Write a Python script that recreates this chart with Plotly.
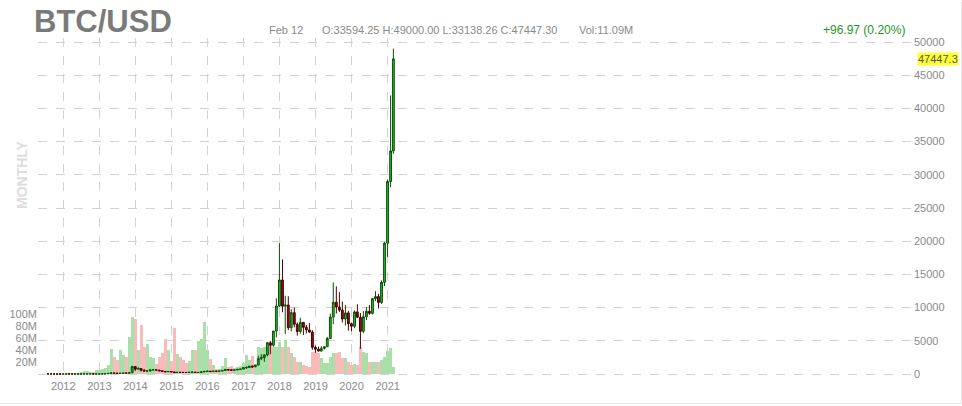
import pandas as pd
import plotly.graph_objects as go

# ---------------- data (monthly BTC/USD, Jul 2011 .. Feb 2021) ----------------
month_start = "2011-07-31"
n_months = 116

opens = [
    15.4, 13.4, 8.2, 5.1, 3.2, 3.0,                                   # 2011 Jul-Dec
    4.7, 5.5, 4.9, 4.9, 5.0, 5.2, 6.7, 9.3, 10.2, 12.4, 11.2, 12.6,   # 2012
    13.5, 20.4, 33.4, 93, 139, 129, 97, 106, 135, 133, 198, 1120,     # 2013
    732, 815, 573, 445, 447, 630, 640, 585, 478, 387, 338, 376,       # 2014
    320, 217, 254, 244, 236, 230, 263, 284, 230, 236, 314, 377,       # 2015
    430, 368, 437, 416, 448, 531, 673, 624, 573, 608, 700, 742,       # 2016
    963, 970, 1190, 1080, 1348, 2300, 2480, 2875, 4703, 4339, 6468, 10233,      # 2017
    14156, 10221, 10397, 6973, 9240, 7494, 6404, 7780, 7037, 6635, 6317, 4017,  # 2018
    3742, 3457, 3854, 4105, 5350, 8574, 10817, 10085, 9630, 8293, 9199, 7569,   # 2019
    7193, 9350, 8544, 6424, 8624, 9454, 9136, 11351, 11655, 10779, 13805, 19700,  # 2020
    28990, 33594.25,                                                  # 2021
]
highs = [
    15.5, 13.5, 8.5, 5.3, 3.5, 4.8,
    7.4, 6.4, 5.4, 5.3, 5.2, 6.8, 9.5, 15.4, 12.6, 12.8, 12.8, 13.7,
    20.9, 33.8, 94, 266, 140, 130, 111, 135, 146, 215, 1242, 1163,
    1020, 840, 710, 545, 630, 680, 650, 600, 500, 414, 460, 385,
    320, 265, 300, 257, 247, 268, 317, 287, 243, 333, 502, 465,
    460, 445, 440, 466, 550, 780, 704, 624, 612, 720, 755, 975,
    1153, 1200, 1290, 1350, 2760, 3000, 2940, 4740, 4980, 6470, 11400, 19700,
    17250, 11780, 11700, 9760, 10020, 7760, 8480, 7760, 7400, 7680, 6600, 4300,
    4120, 4200, 4140, 5600, 9100, 13800, 13200, 12330, 10920, 10400, 9500, 7750,
    9580, 10500, 9190, 9480, 10080, 10390, 11450, 12470, 12070, 14100, 19900, 29300,
    41950, 49000.00,
]
lows = [
    12.9, 7.0, 4.8, 2.2, 2.0, 2.8,
    4.6, 4.3, 4.6, 4.7, 4.9, 5.2, 6.5, 7.1, 9.8, 9.9, 10.6, 12.4,
    13.2, 19.6, 33.2, 50, 104, 88, 65, 100, 123, 104, 196, 455,
    731, 380, 440, 340, 420, 540, 560, 450, 360, 275, 320, 300,
    152, 212, 236, 214, 225, 219, 253, 162, 226, 235, 300, 352,
    360, 365, 394, 413, 438, 525, 475, 532, 568, 604, 682, 742,
    750, 935, 890, 1065, 1340, 2100, 1830, 2670, 2980, 4110, 5500, 10100,
    9300, 6000, 6600, 6430, 7030, 5780, 6070, 5880, 6100, 6200, 3650, 3200,
    3400, 3380, 3700, 4070, 5330, 7500, 9100, 9350, 7750, 7300, 6530, 6440,
    6900, 8480, 3800, 6150, 8120, 8900, 8970, 10980, 9880, 10550, 13240, 17600,
    28130, 33138.26,
]
closes = [
    13.4, 8.2, 5.1, 3.2, 3.0, 4.7,
    5.5, 4.9, 4.9, 5.0, 5.2, 6.7, 9.3, 10.2, 12.4, 11.2, 12.6, 13.5,
    20.4, 33.4, 93, 139, 129, 97, 106, 135, 133, 198, 1120, 732,
    815, 573, 445, 447, 630, 640, 585, 478, 387, 338, 376, 320,
    217, 254, 244, 236, 230, 263, 284, 230, 236, 314, 377, 430,
    368, 437, 416, 448, 531, 673, 624, 573, 608, 700, 742, 963,
    970, 1190, 1080, 1348, 2300, 2480, 2875, 4703, 4339, 6468, 10233, 14156,
    10221, 10397, 6973, 9240, 7494, 6404, 7780, 7037, 6635, 6317, 4017, 3742,
    3457, 3854, 4105, 5350, 8574, 10817, 10085, 9630, 8293, 9199, 7569, 7193,
    9350, 8544, 6424, 8624, 9454, 9136, 11351, 11655, 10779, 13805, 19700, 28990,
    33594.25, 47447.30,
]
volumes_m = [
    0.3, 0.3, 0.3, 0.3, 0.3, 0.3,
    1, 1, 1, 1, 1.5, 3, 5, 5, 4, 4, 6, 6,
    8, 10, 15, 42, 28, 23, 40, 32, 28, 62, 95, 92,
    40, 82, 45, 50, 28, 26, 17, 28, 35, 58, 40, 22,
    77, 33, 28, 23, 18, 21, 40, 40, 55, 58, 87, 40,
    25, 15, 9, 9, 14, 26, 12, 13, 10, 12, 14, 18,
    32, 23, 30, 17, 45, 43, 45, 48, 52, 45, 45, 53,
    45, 57, 45, 35, 28, 20, 20, 15, 13, 12, 37, 37,
    35, 27, 18, 18, 28, 35, 35, 37, 27, 27, 20, 15,
    17, 15, 45, 37, 35, 20, 20, 20, 20, 23, 28, 38,
    43, 11.09,
]

year_ticks = ["2012", "2013", "2014", "2015", "2016", "2017", "2018", "2019", "2020", "2021"]
price_ticks = [0, 5000, 10000, 15000, 20000, 25000, 30000, 35000, 40000, 45000, 50000]
volume_ticks = [20e6, 40e6, 60e6, 80e6, 100e6]
volume_tick_text = ["20M", "40M", "60M", "80M", "100M"]

last_price = 47447.3
header_date = "Feb 12"
header_ohlc = "O:33594.25 H:49000.00 L:33138.26 C:47447.30"
header_vol = "Vol:11.09M"
header_change = "+96.97 (0.20%)"

# ---------------- figure ----------------
dates = pd.date_range(month_start, periods=n_months, freq="ME")
volumes = [v * 1e6 for v in volumes_m]
vol_colors = ["#aadfaa" if c >= o else "#f9baba" for o, c in zip(opens, closes)]

W, H = 962, 406
ml, mt = 38, 38              # plot area in page pixels: x 38..913, y 38..378
mr, mb = W - 913, H - 378
pw, ph = W - ml - mr, H - mt - mb


def px_x(x):                 # page pixel -> paper coordinate
    return (x - ml) / pw


def px_y(y):
    return (H - mb - y) / ph


fig = go.Figure()

fig.add_trace(go.Bar(
    x=dates, y=volumes, yaxis="y", marker=dict(color=vol_colors, line=dict(width=0)),
    width=30 * 86400000, hoverinfo="skip",
))

fig.add_trace(go.Candlestick(
    x=dates, open=opens, high=highs, low=lows, close=closes, yaxis="y2",
    increasing=dict(line=dict(color="#0c4f0c", width=1), fillcolor="#22c022"),
    decreasing=dict(line=dict(color="#4a0000", width=1), fillcolor="#a00f0f"),
    whiskerwidth=0, hoverinfo="skip",
))

grid = "#d2d2d2"
tickfont = dict(family="Arial, Liberation Sans, sans-serif", size=11, color="#8a8a8a")

fig.update_layout(
    width=W, height=H,
    margin=dict(l=ml, r=mr, t=mt, b=mb, autoexpand=False),
    paper_bgcolor="white", plot_bgcolor="white",
    showlegend=False, bargap=0, boxgap=0.05, hovermode=False,
    font=dict(family="Arial, Liberation Sans, sans-serif"),
    xaxis=dict(
        type="date", range=["2011-04-20", "2035-08-01"],
        tickvals=[f"{y}-01-01" for y in year_ticks], ticktext=year_ticks,
        showgrid=True, gridcolor=grid, griddash="dash", gridwidth=1,
        zeroline=False, showline=False, ticks="", tickfont=tickfont,
        rangeslider=dict(visible=False), fixedrange=True,
    ),
    yaxis=dict(
        side="left", range=[-6.67e6, 560e6],
        tickvals=volume_ticks, ticktext=volume_tick_text,
        showgrid=False, zeroline=False, showline=False, ticks="",
        tickfont=tickfont,
    ),
    yaxis2=dict(
        side="right", overlaying="y", range=[-602, 50602],
        tickvals=price_ticks, ticktext=[str(t) for t in price_ticks],
        showgrid=True, gridcolor=grid, griddash="dash", gridwidth=1,
        zeroline=False, showline=False, ticks="", tickfont=tickfont,
    ),
)

fig.add_annotation(
    text="<b>BTC/USD</b>", xref="paper", yref="paper", x=px_x(32), y=px_y(22),
    xanchor="left", yanchor="middle", showarrow=False,
    font=dict(size=31, color="#7a7a7a", family="Arial, Liberation Sans, sans-serif"),
)
for txt, xpos in [(header_date, 267), (header_ohlc, 320), (header_vol, 577)]:
    fig.add_annotation(
        text=txt, xref="paper", yref="paper", x=px_x(xpos), y=px_y(30),
        xanchor="left", yanchor="middle", showarrow=False,
        font=dict(size=11, color="#8a8a8a"),
    )
fig.add_annotation(
    text=header_change, xref="paper", yref="paper", x=px_x(907), y=px_y(30),
    xanchor="right", yanchor="middle", showarrow=False,
    font=dict(size=12, color="#1e961e"),
)
fig.add_annotation(
    text=f"{last_price}", xref="paper", yref="y2", x=px_x(917), y=last_price,
    xanchor="left", yanchor="middle", showarrow=False, bgcolor="#ffff33",
    borderpad=0, font=dict(size=11, color="#555555"),
)
fig.add_annotation(
    text="<b>MONTHLY</b>", xref="paper", yref="paper", x=px_x(22), y=px_y(175),
    xanchor="center", yanchor="middle", showarrow=False, textangle=-90,
    font=dict(size=14, color="#dddddd"),
)

# faint outer border (bottom and right edges)
fig.add_shape(type="line", xref="paper", yref="paper",
              x0=px_x(0), x1=px_x(961.5), y0=px_y(403.5), y1=px_y(403.5),
              line=dict(color="#e6e6e6", width=1))
fig.add_shape(type="line", xref="paper", yref="paper",
              x0=px_x(961.5), x1=px_x(961.5), y0=px_y(403.5), y1=px_y(2),
              line=dict(color="#e6e6e6", width=1))

fig.write_html("out.html", config={"displayModeBar": False, "staticPlot": True},
               post_script="document.body.style.margin='0px';")
